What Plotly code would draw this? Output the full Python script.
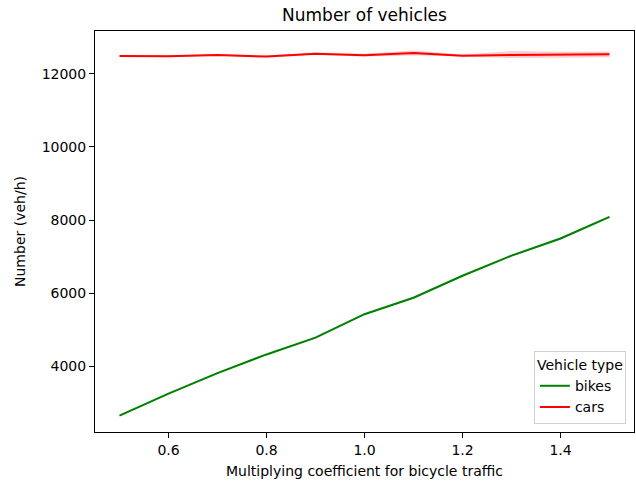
import plotly.graph_objects as go

coef = [0.5, 0.6, 0.7, 0.8, 0.9, 1.0, 1.1, 1.2, 1.3, 1.4, 1.5]

bikes_mean = [2660, 3260, 3820, 4330, 4790, 5430, 5880, 6480, 7030, 7500, 8090]
bikes_low = [2640, 3240, 3795, 4300, 4760, 5405, 5850, 6450, 7000, 7460, 8060]
bikes_high = [2680, 3280, 3845, 4355, 4815, 5455, 5905, 6505, 7060, 7535, 8115]

cars_mean = [12487, 12480, 12512, 12470, 12548, 12507, 12570, 12496, 12512, 12522, 12532]
cars_low = [12460, 12455, 12485, 12445, 12515, 12470, 12500, 12470, 12430, 12440, 12450]
cars_high = [12515, 12505, 12540, 12495, 12580, 12545, 12640, 12525, 12620, 12600, 12610]

y_ticks = [4000, 6000, 8000, 10000, 12000]
x_ticks = [0.6, 0.8, 1.0, 1.2, 1.4]

series = [
    ("bikes", bikes_mean, bikes_low, bikes_high, "green", "rgba(0,128,0,0.2)"),
    ("cars", cars_mean, cars_low, cars_high, "red", "rgba(255,0,0,0.2)"),
]

fig = go.Figure()
for name, m, lo, hi, col, fill in series:
    fig.add_trace(go.Scatter(
        x=coef + coef[::-1], y=hi + lo[::-1], fill="toself",
        fillcolor=fill, line=dict(width=0), mode="lines",
        hoverinfo="skip", showlegend=False))
for name, m, lo, hi, col, fill in series:
    fig.add_trace(go.Scatter(
        x=coef, y=m, mode="lines", name=name,
        line=dict(color=col, width=2)))

axis_common = dict(
    showgrid=False, zeroline=False, showline=True, linecolor="black",
    linewidth=1, mirror=True, ticks="outside", ticklen=5, tickcolor="black",
    tickfont=dict(size=14, color="black"),
)

fig.update_layout(
    width=636, height=483,
    margin=dict(l=95, r=2, t=31, b=51),
    paper_bgcolor="white", plot_bgcolor="white",
    font=dict(family="DejaVu Sans", color="black", size=14),
    title=dict(text="Number of vehicles", x=(95 + 634) / 2 / 636,
               xanchor="center", y=1 - 15 / 483, yanchor="middle",
               font=dict(size=17, color="black")),
    xaxis=dict(range=[0.45, 1.55], tickvals=x_ticks,
               ticktext=[f"{v:.1f}" for v in x_ticks],
               title=dict(text="Multiplying coefficient for bicycle traffic",
                          font=dict(size=14), standoff=9),
               **axis_common),
    yaxis=dict(range=[2210, 13170], tickvals=y_ticks,
               ticktext=[str(v) for v in y_ticks],
               title=dict(text="Number (veh/h)", font=dict(size=14), standoff=12),
               **axis_common),
    legend=dict(
        title=dict(text="Vehicle type", side="top center", font=dict(size=14)),
        x=0.985, y=0.02, xanchor="right", yanchor="bottom",
        bgcolor="rgba(255,255,255,0.8)", bordercolor="#d0d0d0", borderwidth=1,
        font=dict(size=14), itemwidth=30, entrywidth=60, tracegroupgap=4,
    ),
)

fig.write_html("out.html", config={"displayModeBar": False},
               post_script="document.body.style.margin='0';document.body.style.overflow='hidden';")
